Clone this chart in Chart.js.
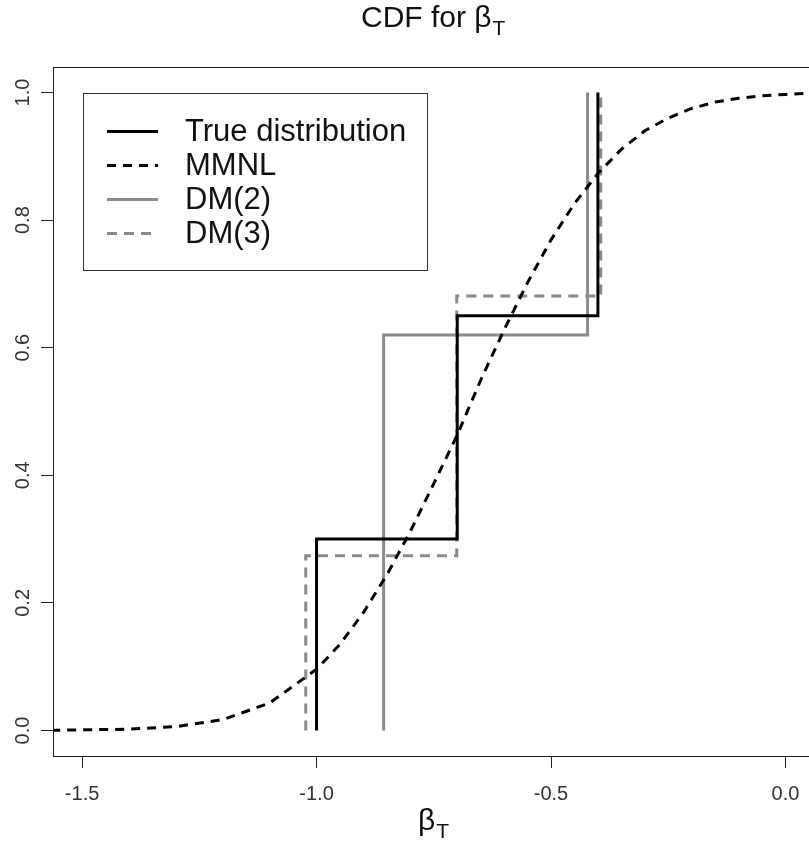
<!DOCTYPE html>
<html>
<head>
<meta charset="utf-8">
<script src="https://cdn.jsdelivr.net/npm/chart.js@4"></script>
<style>
  html, body { margin: 0; padding: 0; background: #fff; overflow: hidden; }
  canvas { display: block; }
</style>
</head>
<body>
<canvas id="cdfChart" width="838" height="856"></canvas>
<script>
// step CDFs: corner x positions and cumulative levels
const trueX = [-1.0, -1.0, -0.7, -0.7, -0.4, -0.4];
const trueY = [0, 0.3, 0.3, 0.65, 0.65, 1.0];
const dm2X = [-0.857, -0.857, -0.422, -0.422];
const dm2Y = [0, 0.62, 0.62, 1.0];
const dm3X = [-1.023, -1.023, -0.701, -0.701, -0.394, -0.394];
const dm3Y = [0, 0.274, 0.274, 0.681, 0.681, 1.0];

// MMNL curve
const mmnlX = [-1.6, -1.4, -1.3, -1.2, -1.1, -1.0, -0.95, -0.9, -0.85, -0.8, -0.75, -0.7, -0.65, -0.6,
  -0.55, -0.5, -0.45, -0.4, -0.35, -0.3, -0.25, -0.2, -0.15, -0.1, -0.05, 0.0, 0.05, 0.15];
const mmnlY = [0.0, 0.002, 0.006, 0.017, 0.043, 0.096, 0.135, 0.185, 0.244, 0.312, 0.387, 0.463, 0.549, 0.628,
  0.702, 0.769, 0.826, 0.873, 0.911, 0.94, 0.96, 0.975, 0.985, 0.991, 0.995, 0.997, 0.999, 1.0];

const xTicks = [-1.5, -1.0, -0.5, 0.0];
const yTicks = [0, 0.2, 0.4, 0.6, 0.8, 1.0];

const FONT = '"Liberation Sans", Arial, sans-serif';
const GREY = '#8a8a8a';

const toPoints = (xs, ys) => xs.map((x, i) => ({ x: x, y: ys[i] }));

// frame, rotated y labels, title, x label and the legend box
const decorations = {
  id: 'decorations',
  afterDraw(chart) {
    const ctx = chart.ctx;
    const area = chart.chartArea;
    const yScale = chart.scales.y;
    ctx.save();

    ctx.strokeStyle = '#222';
    ctx.lineWidth = 1;
    ctx.strokeRect(area.left + 0.5, area.top + 0.5, area.right - area.left, area.bottom - area.top);

    ctx.fillStyle = '#333';
    ctx.font = '20px ' + FONT;
    ctx.textAlign = 'center';
    ctx.textBaseline = 'alphabetic';
    yTicks.forEach(v => {
      ctx.save();
      ctx.translate(29, yScale.getPixelForValue(v));
      ctx.rotate(-Math.PI / 2);
      ctx.fillText(v.toFixed(1), 0, 0);
      ctx.restore();
    });

    // title with subscript
    ctx.fillStyle = '#111';
    ctx.textAlign = 'left';
    ctx.font = '30px ' + FONT;
    const main = 'CDF for \u03B2';
    ctx.fillText(main, 361, 27);
    const w = ctx.measureText(main).width;
    ctx.font = '21px ' + FONT;
    ctx.fillText('T', 361 + w + 1, 35);

    // x axis label
    ctx.font = '30px ' + FONT;
    const bw = ctx.measureText('\u03B2').width;
    ctx.fillText('\u03B2', 418, 830);
    ctx.font = '21px ' + FONT;
    ctx.fillText('T', 418 + bw + 1, 838);

    // legend
    ctx.fillStyle = '#fff';
    ctx.fillRect(83, 93, 345, 178);
    ctx.strokeStyle = '#333';
    ctx.lineWidth = 1;
    ctx.strokeRect(83.5, 93.5, 344, 177);
    ctx.font = '31px ' + FONT;
    ctx.textBaseline = 'middle';
    chart.data.datasets.forEach((ds, i) => {
      const y = 131.5 + i * 34;
      ctx.strokeStyle = ds.borderColor;
      ctx.lineWidth = ds.borderWidth;
      ctx.setLineDash(ds.borderDash || []);
      ctx.beginPath();
      ctx.moveTo(107, y);
      ctx.lineTo(158, y);
      ctx.stroke();
      ctx.setLineDash([]);
      ctx.fillStyle = '#111';
      ctx.fillText(ds.label, 185, y + 1);
    });
    ctx.restore();
  }
};

new Chart(document.getElementById('cdfChart'), {
  type: 'scatter',
  data: {
    datasets: [
      { label: 'True distribution', data: toPoints(trueX, trueY), borderColor: '#000', borderWidth: 3 },
      { label: 'MMNL', data: toPoints(mmnlX, mmnlY), borderColor: '#000', borderWidth: 3, borderDash: [9, 7] },
      { label: 'DM(2)', data: toPoints(dm2X, dm2Y), borderColor: GREY, borderWidth: 3 },
      { label: 'DM(3)', data: toPoints(dm3X, dm3Y), borderColor: GREY, borderWidth: 3, borderDash: [10, 7] }
    ]
  },
  options: {
    responsive: false,
    animation: false,
    showLine: true,
    elements: {
      point: { radius: 0, hoverRadius: 0 },
      line: { tension: 0, fill: false, borderCapStyle: 'butt' }
    },
    layout: { padding: { top: 67, right: 0, left: 0, bottom: 0 } },
    plugins: { legend: { display: false }, tooltip: { enabled: false }, title: { display: false } },
    scales: {
      x: {
        type: 'linear',
        min: -1.562,
        max: 0.112,
        afterBuildTicks: s => { s.ticks = xTicks.map(v => ({ value: v })); },
        afterFit: s => { s.height = 100; },
        grid: { drawOnChartArea: false, drawTicks: true, tickLength: 12, tickColor: '#222', tickWidth: 1 },
        border: { display: true, color: '#222', width: 1 },
        ticks: {
          font: { family: FONT, size: 20 },
          color: '#333',
          padding: 14,
          maxRotation: 0,
          callback: v => Number(v).toFixed(1)
        }
      },
      y: {
        type: 'linear',
        min: -0.04,
        max: 1.04,
        afterBuildTicks: s => { s.ticks = yTicks.map(v => ({ value: v })); },
        afterFit: s => { s.width = 53; },
        grid: { drawOnChartArea: false, drawTicks: true, tickLength: 12, tickColor: '#222', tickWidth: 1 },
        border: { display: true, color: '#222', width: 1 },
        ticks: { display: false }
      }
    }
  },
  plugins: [decorations]
});
</script>
</body>
</html>
